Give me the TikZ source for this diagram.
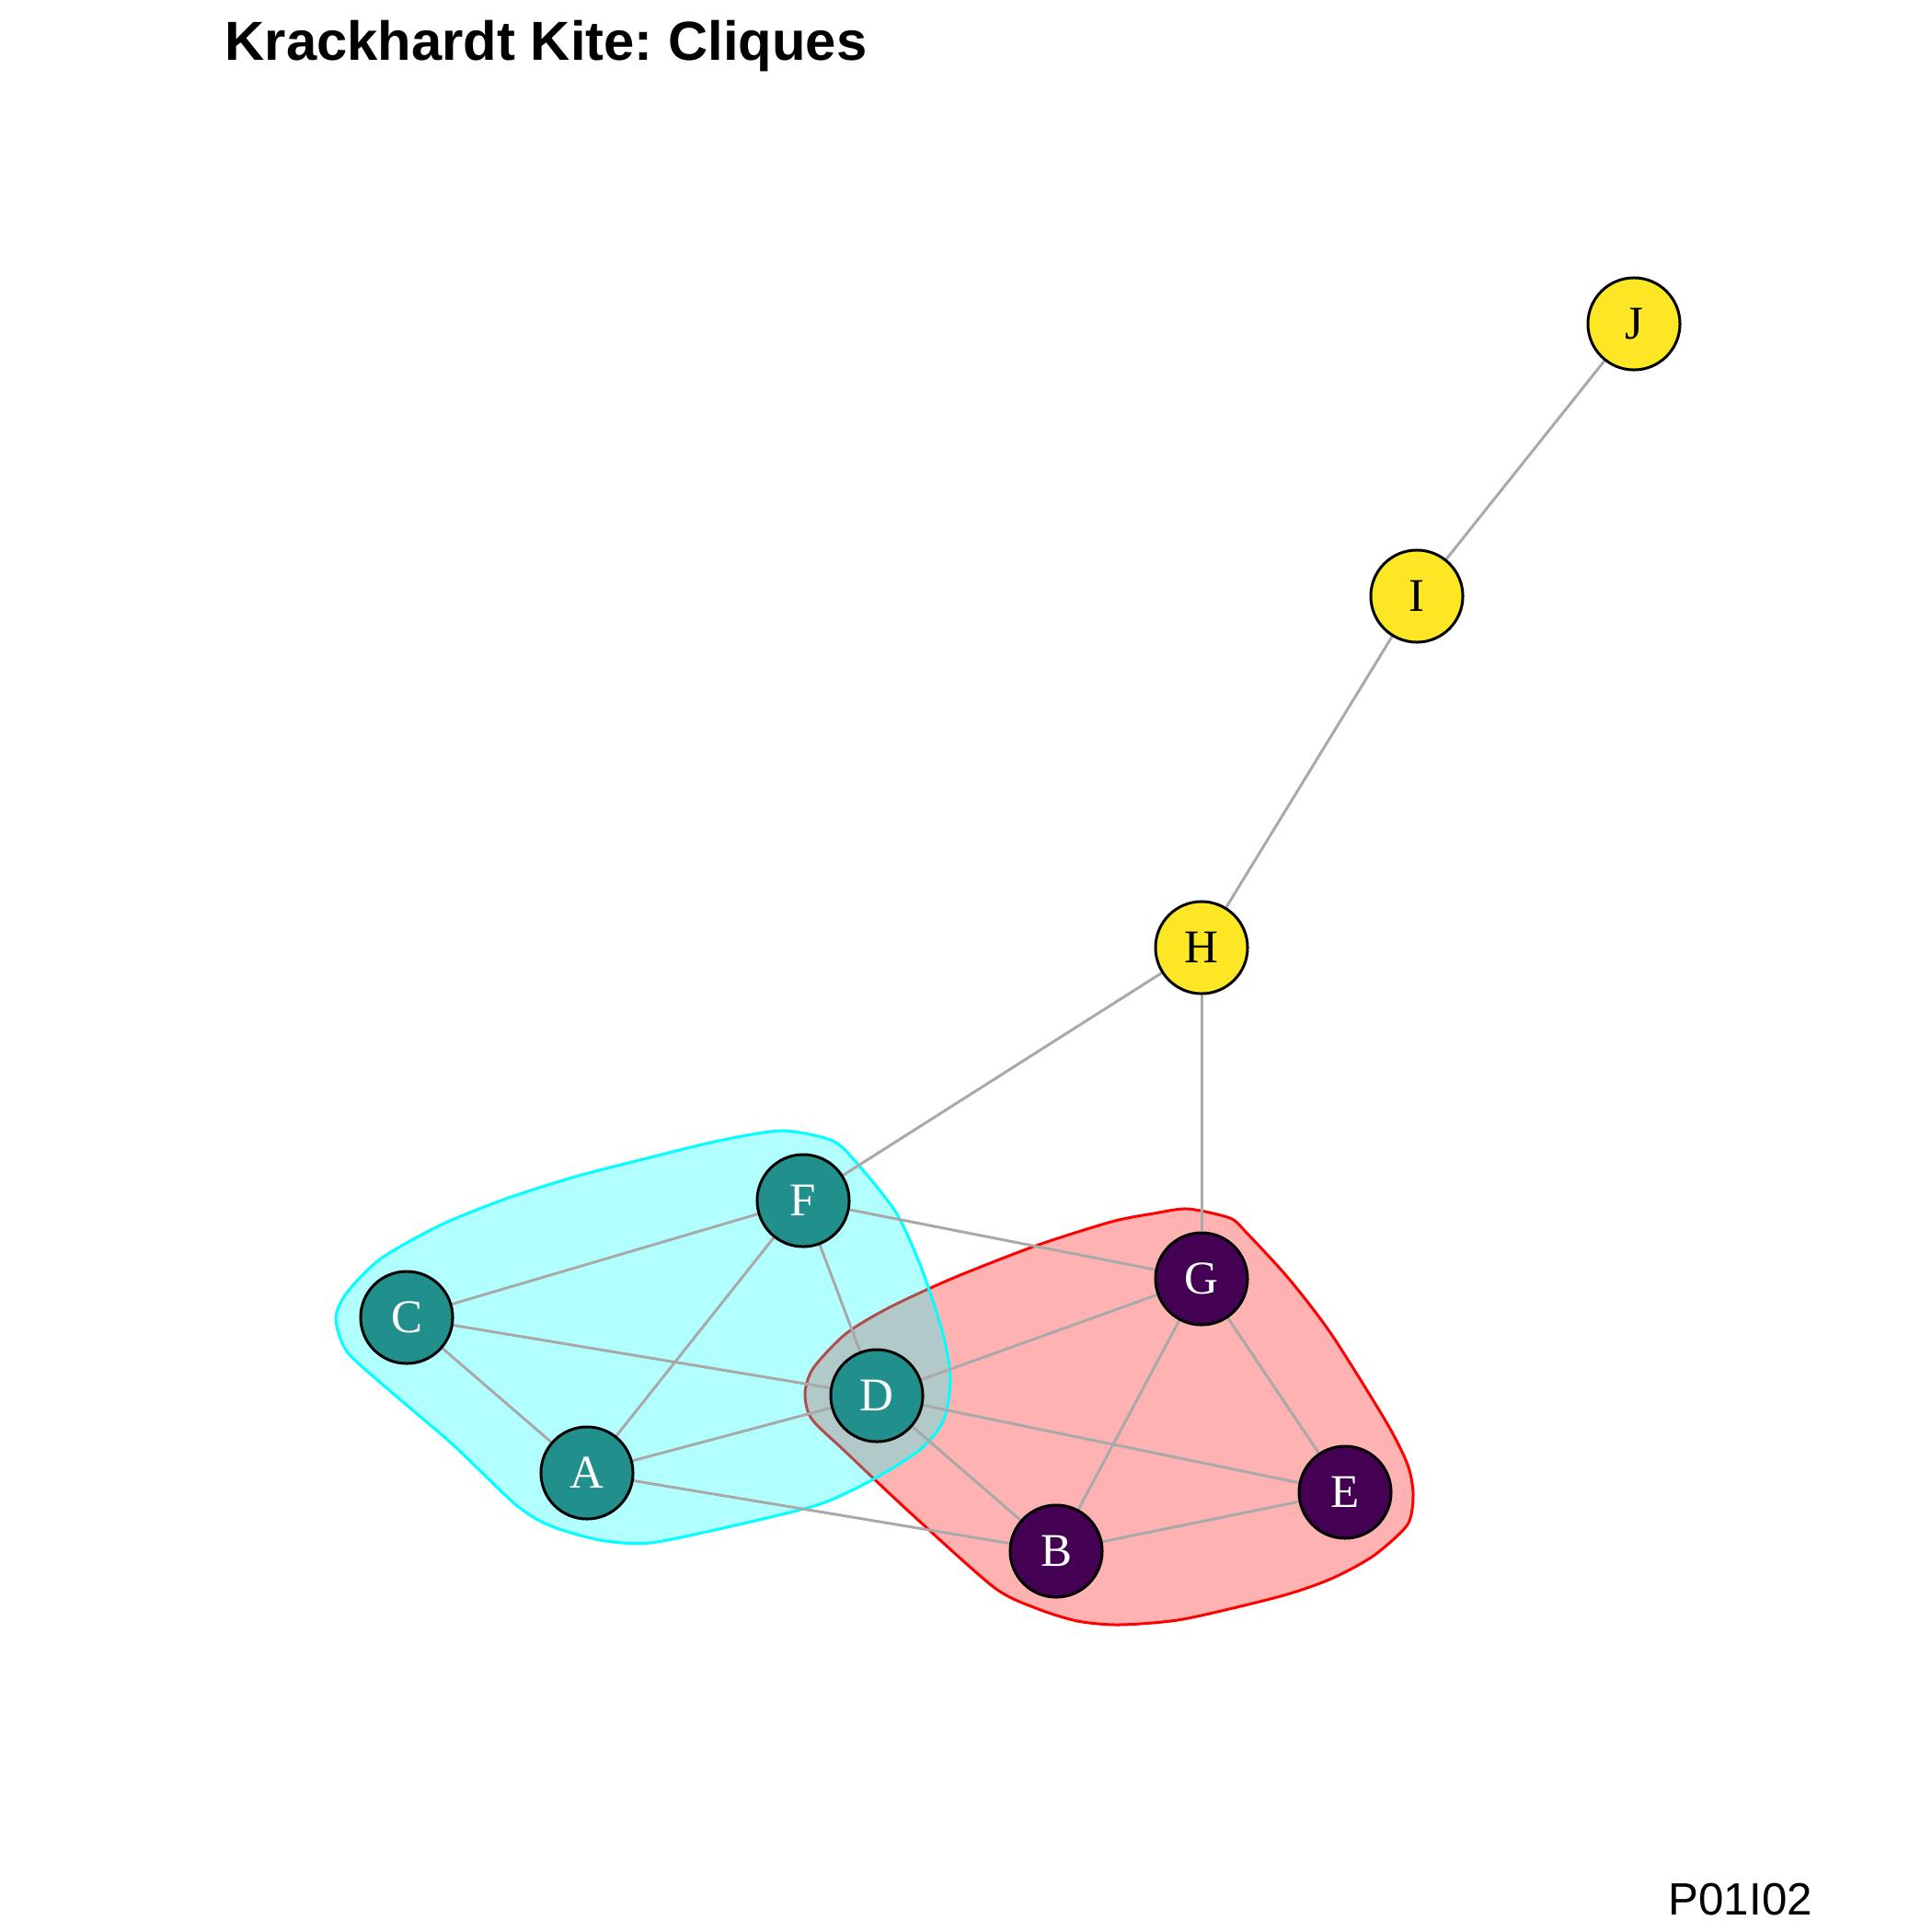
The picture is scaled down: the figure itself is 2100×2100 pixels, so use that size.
\documentclass[tikz,border=0pt]{standalone}
\usepackage{fontspec}
\setmainfont{Liberation Serif}
\newfontfamily\arialfont{Liberation Sans}
\frenchspacing
\definecolor{viridisteal}{HTML}{21908C}
\definecolor{viridispurple}{HTML}{440154}
\definecolor{viridisyellow}{HTML}{FDE725}
\definecolor{edgegrey}{HTML}{A9A9A9}
\definecolor{hullred}{HTML}{FF0000}
\definecolor{hullcyan}{HTML}{00FFFF}
\pgfdeclarelayer{hull}
\pgfdeclarelayer{edges}
\pgfsetlayers{hull,edges,main}
\tikzset{
  vtx/.style={circle, draw=black, line width=0.85pt, minimum size=1cm, inner sep=0pt,
    font=\fontsize{14.5}{14.5}\selectfont},
  tealvtx/.style={vtx, fill=viridisteal, text=white},
  purplevtx/.style={vtx, fill=viridispurple, text=white},
  yellowvtx/.style={vtx, fill=viridisyellow, text=black},
  edge/.style={draw=edgegrey, line width=0.85pt},
  hull/.style={line width=0.85pt, fill opacity=0.3, smooth cycle, tension=0.45}
}

\begin{document}
\begin{tikzpicture}[x=0.01cm, y=-0.01cm]
  \useasboundingbox (0,0) rectangle (2100,2100);

  % Title and tag
  \node[anchor=base west, inner sep=0pt, font=\arialfont\bfseries\fontsize{17}{17}\selectfont]
    (title) at (244,65.7) {Krackhardt Kite: Cliques};
  \node[anchor=base west, inner sep=0pt, font=\arialfont\fontsize{14}{14}\selectfont]
    (tag) at (1813,2081.7) {P01I02};

  % Vertices
  \node[yellowvtx] (J) at (1776,352) {J};
  \node[yellowvtx] (I) at (1540,648) {I};
  \node[yellowvtx] (H) at (1306,1030) {H};
  \node[tealvtx] (F) at (873,1305) {F};
  \node[purplevtx] (G) at (1306,1390) {G};
  \node[tealvtx] (C) at (442,1432) {C};
  \node[tealvtx] (D) at (953,1517) {D};
  \node[tealvtx] (A) at (638,1601) {A};
  \node[purplevtx] (E) at (1462,1622) {E};
  \node[purplevtx] (B) at (1148,1686) {B};

  % Clique hulls
  \begin{pgfonlayer}{hull}
    \draw[hull, draw=hullred, fill=hullred] plot coordinates {
      (1291,1314) (1337,1324) (1355,1340) (1401,1390) (1447,1450) (1507,1546)
      (1530,1592) (1536,1624) (1530,1657) (1493,1691) (1447,1716) (1392,1735)
      (1286,1760) (1217,1766) (1171,1762) (1126,1748) (1080,1725) (988,1643)
      (919,1578) (882,1542) (875,1514) (884,1487) (919,1450) (965,1422)
      (1034,1390) (1126,1354) (1208,1328) (1254,1319)};
    \draw[hull, draw=hullcyan, fill=hullcyan] plot coordinates {
      (850,1229) (905,1240) (932,1265) (974,1318) (1001,1377) (1024,1446)
      (1033,1497) (1026,1543) (1001,1575) (951,1607) (891,1635) (799,1658)
      (707,1677) (652,1674) (597,1658) (560,1635) (492,1570) (423,1511)
      (377,1469) (365,1433) (377,1405) (414,1368) (478,1332) (547,1304)
      (625,1279) (707,1258) (781,1240)};
  \end{pgfonlayer}

  % Ties
  \begin{pgfonlayer}{edges}
    \foreach \u/\v in {J/I, I/H, H/F, H/G, F/C, F/A, F/D, F/G, C/D, C/A,
                       A/D, A/B, D/G, D/E, D/B, G/B, G/E, B/E}
      \draw[edge] (\u) -- (\v);
  \end{pgfonlayer}

\end{tikzpicture}
\end{document}
